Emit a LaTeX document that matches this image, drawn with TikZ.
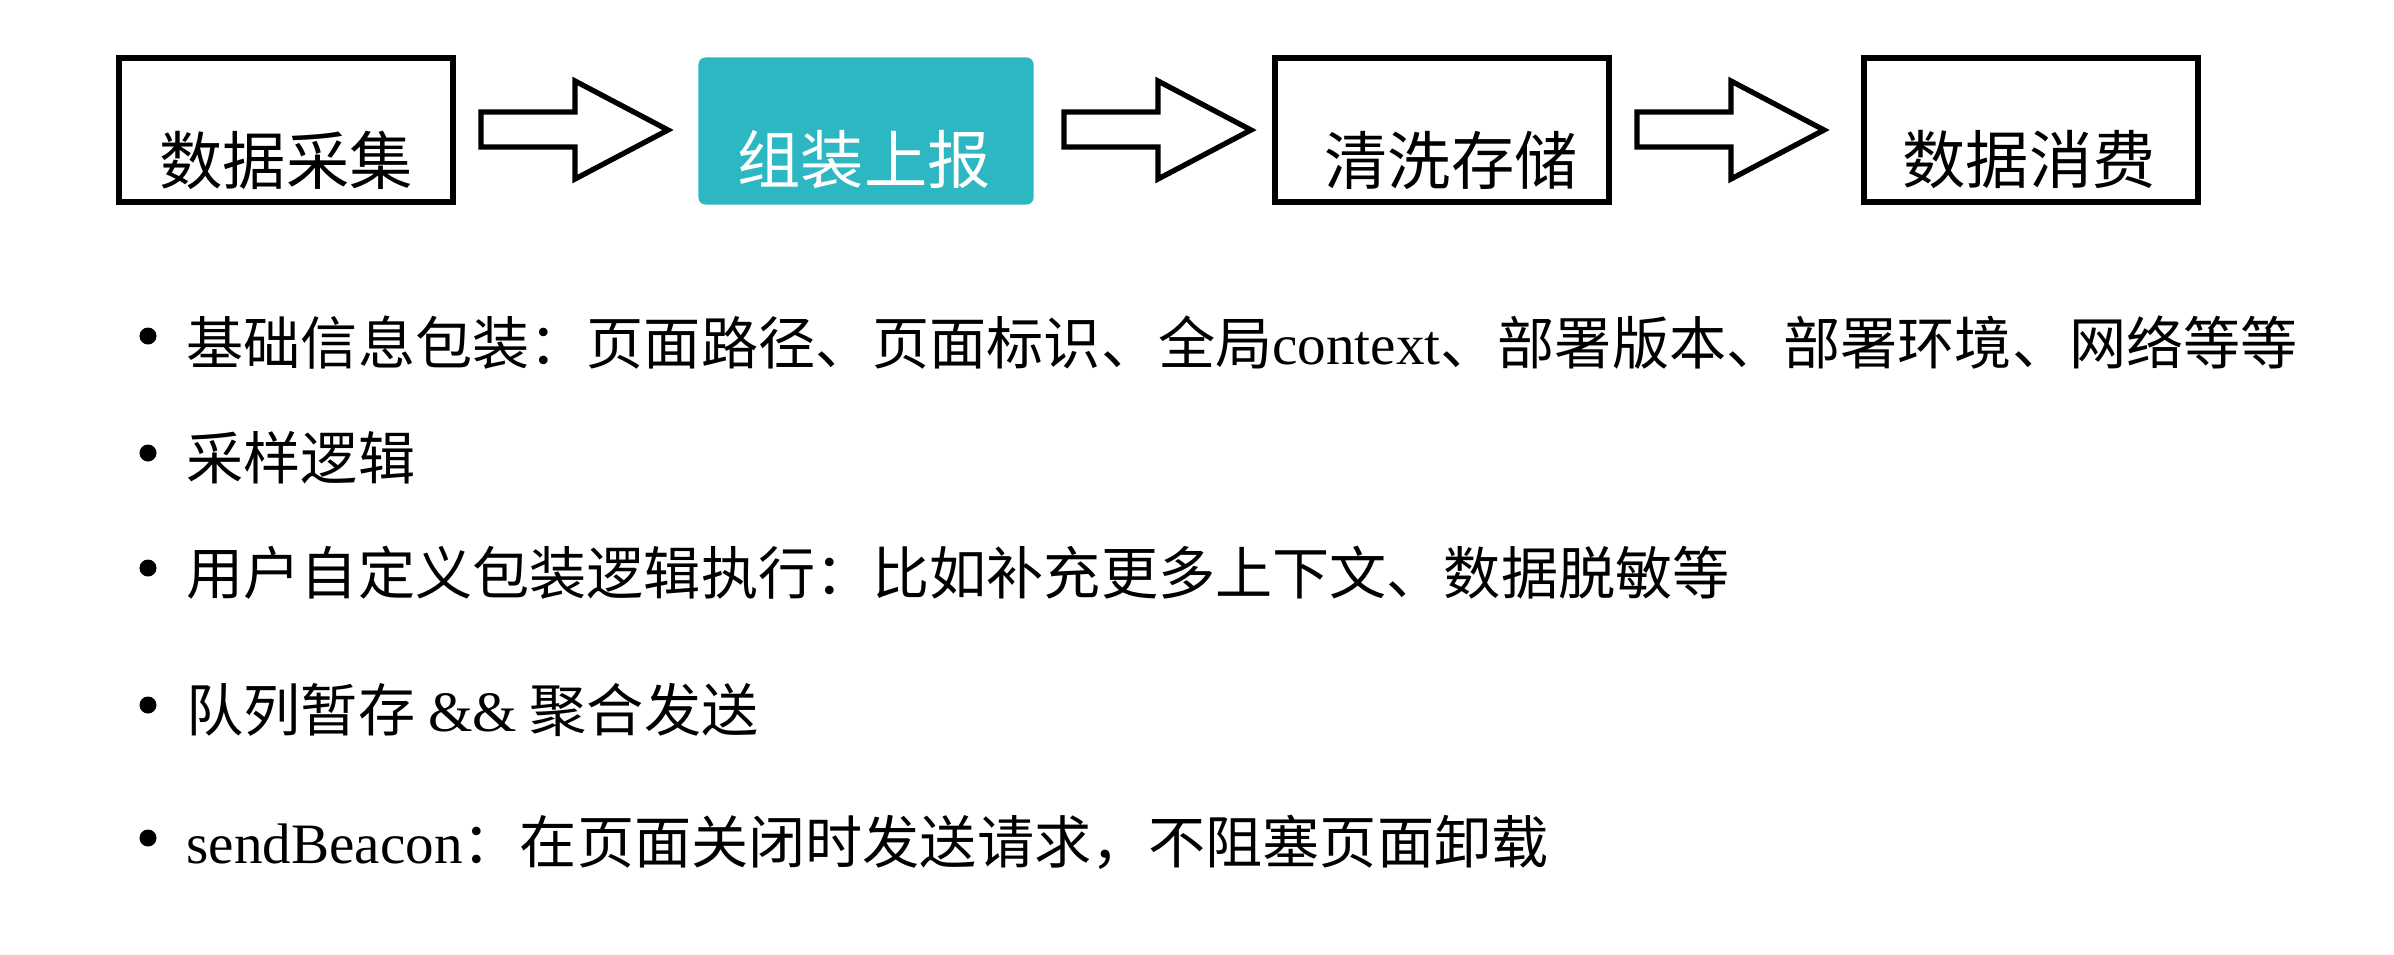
\documentclass[tikz,border=0pt]{standalone}
\usepackage{fontspec}
\setmainfont{Noto Sans CJK SC}
\newfontfamily\lat{Liberation Serif}
\definecolor{tealbox}{RGB}{44,183,194}
\begin{document}
\begin{tikzpicture}[x=0.01cm,y=-0.01cm,
  box/.style={draw, line width=1.5pt, minimum width=3.34cm, minimum height=1.44cm, inner sep=0},
  hlbox/.style={fill=tealbox, rounded corners=2pt, minimum width=3.35cm, minimum height=1.47cm, inner sep=0},
  boxtext/.style={font=\fontsize{18}{20}\selectfont, inner sep=0},
  item/.style={anchor=west, font=\fontsize{16.25}{19}\selectfont, inner sep=0},
  dot/.style={circle, fill=black, minimum size=0.17cm, inner sep=0},
  blockarrow/.style={draw, line width=1.5pt, line join=miter, fill=white}]
\useasboundingbox (0,0) rectangle (2394,954);
% boxes
\node[box]   (b1) at (286,130) {};
\node[hlbox] (b2) at (866,131) {};
\node[box]   (b3) at (1442,130) {};
\node[box]   (b4) at (2031,130) {};
\node[boxtext] (t1) at (286,160) {数据采集};
\node[boxtext, text=white] (t2) at (864,160) {组装上报};
\node[boxtext] (t3) at (1451,160) {清洗存储};
\node[boxtext] (t4) at (2029,160) {数据消费};
% block arrows
\foreach \x in {481,1064,1637} {
  \draw[blockarrow] (\x,112) -- (\x+94,112) -- (\x+94,81) -- (\x+187,130)
     -- (\x+94,179) -- (\x+94,147) -- (\x,147) -- cycle;
}
% bullet list
\node[dot] (d1) at (148,336) {};
\node[dot] (d2) at (148,453) {};
\node[dot] (d3) at (148,568) {};
\node[dot] (d4) at (148,705) {};
\node[dot] (d5) at (148,838) {};
\node[item] (l1) at (186,343) {基础信息包装：页面路径、页面标识、全局{\lat context}、部署版本、部署环境、网络等等};
\node[item] (l2) at (186,458) {采样逻辑};
\node[item] (l3) at (186,573) {用户自定义包装逻辑执行：比如补充更多上下文、数据脱敏等};
\node[item] (l4) at (186,710) {队列暂存 {\lat \&\&} 聚合发送};
\node[item] (l5) at (186,842) {{\lat sendBeacon}：在页面关闭时发送请求，不阻塞页面卸载};
\end{tikzpicture}
\end{document}
